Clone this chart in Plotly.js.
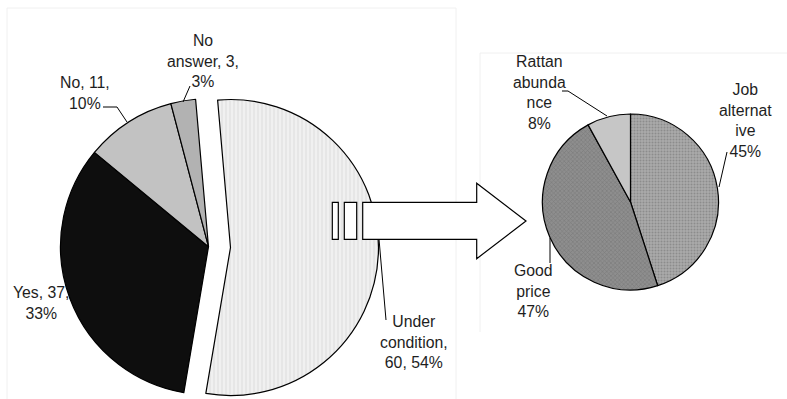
<!DOCTYPE html>
<html>
<head>
<meta charset="utf-8">
<script src="https://cdn.plot.ly/plotly-3.0.1.min.js"></script>
<style>html,body{margin:0;padding:0;background:#fff;overflow:hidden}#chart{width:787px;height:399px}</style>
</head>
<body>
<div id="chart"></div>
<script>
// ---- data ----
var leftCategories = ['Under condition', 'Yes', 'No', 'No answer'];
var leftValues = [60, 37, 11, 3];
var rightCategories = ['Job alternative', 'Good price', 'Rattan abundance'];
var rightValues = [45, 47, 8];
// label wrapping as in the original (Excel word wrap)
var leftWrapped = ['Under<br>condition,<br>', 'Yes, ', 'No, ', 'No<br>answer, '];
var leftSep = [', ', ',<br>', ',<br>', ',<br>'];
var rightWrapped = ['Job<br>alternat<br>ive<br>', 'Good<br>price<br>', 'Rattan<br>abunda<br>nce<br>'];

// ---- helpers ----
var W = 787, H = 399;
function px(x) { return x / W; }
function py(y) { return 1 - y / H; }
function dom(cx, cy, r) { return {x: [px(cx - r), px(cx + r)], y: [py(cy + r), py(cy - r)]}; }

var T = 'rgba(0,0,0,0)';
var leftSum = leftValues.reduce(function (a, b) { return a + b; }, 0);
var leftPct = leftValues.map(function (v) { return Math.round(v / leftSum * 100); });

var baseLeft = {
  type: 'pie', labels: leftCategories, values: leftValues, sort: false,
  direction: 'clockwise', rotation: -5, textinfo: 'none', hoverinfo: 'label+value+percent',
  showlegend: false
};
var leftMain = Object.assign({}, baseLeft, {
  domain: dom(208.5, 246.7, 148),
  marker: {colors: [T, '#0e0e0e', '#c2c2c2', '#b2b2b2'],
           line: {color: '#000', width: [0, 1.2, 1.2, 1.2]}}
});
var leftExploded = Object.assign({}, baseLeft, {
  domain: dom(230.5, 247.5, 148),
  marker: {colors: ['#efefef', T, T, T],
           pattern: {shape: ['|', '', '', ''], fgcolor: '#dcdcdc', bgcolor: '#f0f0f0', size: 4, solidity: 0.25, fillmode: 'replace'},
           line: {color: '#000', width: [1.2, 0, 0, 0]}}
});
var rightPie = {
  type: 'pie', labels: rightCategories, values: rightValues, sort: false,
  direction: 'clockwise', rotation: 0, textinfo: 'none', showlegend: false,
  domain: dom(630.5, 202, 88),
  marker: {colors: ['#a3a3a3', '#8a8a8a', '#c6c6c6'],
           pattern: {shape: ['.', 'x', ''], fgcolor: ['#8c8c8c', '#7a7a7a', '#c6c6c6'],
                     bgcolor: ['#ababab', '#8e8e8e', '#c6c6c6'], size: 3, solidity: 0.35, fillmode: 'replace'},
           line: {color: '#000', width: 1.2}}
};

// ---- labels ----
var leftPos = [[414, 342], [41, 302.5], [85, 93], [203, 61]];
var rightPos = [[745, 120], [533, 291], [539, 92]];
var ann = [];
leftCategories.forEach(function (c, i) {
  ann.push({text: leftWrapped[i] + leftValues[i] + leftSep[i] + leftPct[i] + '%',
            x: px(leftPos[i][0]), y: py(leftPos[i][1])});
});
rightCategories.forEach(function (c, i) {
  ann.push({text: rightWrapped[i] + rightValues[i] + '%',
            x: px(rightPos[i][0]), y: py(rightPos[i][1])});
});
ann = ann.map(function (a) {
  return Object.assign(a, {xref: 'paper', yref: 'paper', showarrow: false,
    xanchor: 'center', yanchor: 'middle', align: 'center',
    font: {family: 'Liberation Sans, Arial, sans-serif', size: 15.8, color: '#1e1e1e'}});
});

// ---- decorations: leader lines, arrow, panel frames ----
function path(pts, close) {
  return pts.map(function (p, i) { return (i ? 'L' : 'M') + px(p[0]) + ',' + py(p[1]); }).join(' ') + (close ? ' Z' : '');
}
var leaders = [
  [[190, 86], [183, 102]],
  [[103, 107], [117, 107], [127, 122]],
  [[379, 239], [386, 320]],
  [[562, 91], [568, 91], [607, 116]],
  [[727, 152], [719, 187]],
  [[550, 238], [550, 263]]
];
var shapes = [];
shapes.push({type: 'path', xref: 'paper', yref: 'paper', layer: 'below',
  path: path([[7, 400], [7, 8], [456, 8], [456, 400]]), line: {color: '#f0f0f0', width: 1}});
shapes.push({type: 'path', xref: 'paper', yref: 'paper', layer: 'below',
  path: path([[788, 53], [480, 53], [480, 332]]), line: {color: '#f0f0f0', width: 1}});
leaders.forEach(function (l) {
  shapes.push({type: 'path', xref: 'paper', yref: 'paper', path: path(l), line: {color: '#000', width: 1}});
});
shapes.push({type: 'path', xref: 'paper', yref: 'paper', fillcolor: '#fff', line: {color: '#000', width: 1.2},
  path: path([[362.7, 202.3], [476.7, 202.3], [476.7, 183.3], [526, 221], [476.7, 258.7], [476.7, 239.3], [362.7, 239.3]], true)});
shapes.push({type: 'path', xref: 'paper', yref: 'paper', fillcolor: '#fff', line: {color: '#000', width: 1.2},
  path: path([[332.3, 202.3], [338.3, 202.3], [338.3, 239.3], [332.3, 239.3]], true)});
shapes.push({type: 'path', xref: 'paper', yref: 'paper', fillcolor: '#fff', line: {color: '#000', width: 1.2},
  path: path([[344.3, 202.3], [356.7, 202.3], [356.7, 239.3], [344.3, 239.3]], true)});

var layout = {
  width: W, height: H, margin: {l: 0, r: 0, t: 0, b: 0},
  paper_bgcolor: '#fff', plot_bgcolor: '#fff',
  font: {family: 'Liberation Sans, Arial, sans-serif', size: 15.8, color: '#1e1e1e'},
  annotations: ann, shapes: shapes
};
Plotly.newPlot('chart', [leftMain, leftExploded, rightPie], layout, {displayModeBar: false, staticPlot: true});
</script>
</body>
</html>
